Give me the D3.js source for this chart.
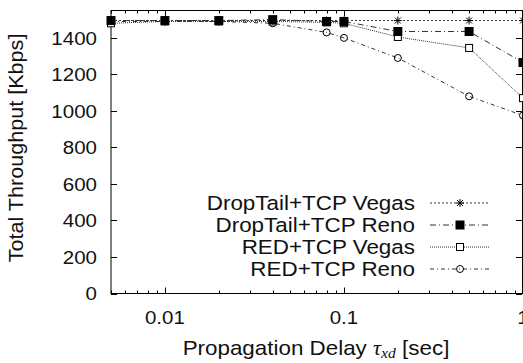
<!DOCTYPE html>
<html lang="en">

<head>
    <meta charset="UTF-8">
    <title>Total Throughput vs Propagation Delay</title>
    <script src="https://cdn.jsdelivr.net/npm/d3@7"></script>
    <style>
        body { margin: 0; background: #fff; }
        svg { display: block; font-family: "Liberation Sans", Arial, Helvetica, sans-serif; fill: #111; }
    </style>
</head>

<body>
    <main></main>

    <script>
        // propagation delay (sec)
        var delays = [0.005, 0.01, 0.02, 0.04, 0.08, 0.1, 0.2, 0.5, 1];

        var dropTailVegas = [1495, 1495, 1495, 1495, 1495, 1495, 1495, 1495, 1495];
        var dropTailReno = [1495, 1495, 1495, 1500, 1490, 1490, 1435, 1435, 1265];
        var redVegas = [1480, 1490, 1490, 1490, 1485, 1480, 1405, 1345, 1070];
        var redReno = [1490, 1490, 1490, 1480, 1430, 1400, 1290, 1080, 975];

        var seriesNames = ['DropTail+TCP Vegas', 'DropTail+TCP Reno', 'RED+TCP Vegas', 'RED+TCP Reno'];
        var yTicks = [0, 200, 400, 600, 800, 1000, 1200, 1400];
        var xTicks = [0.01, 0.1, 1];

        var series = [
            { name: seriesNames[0], values: dropTailVegas, marker: 'star', dash: '2,2' },
            { name: seriesNames[1], values: dropTailReno, marker: 'filledSquare', dash: '6,3,1,3' },
            { name: seriesNames[2], values: redVegas, marker: 'openSquare', dash: '1,1' },
            { name: seriesNames[3], values: redReno, marker: 'circle', dash: '4,3,1,3' }
        ];

        var pLeft = 111, pRight = 523, pTop = 10.5, pBottom = 293.5;
        var stretch = 1.08; // glyphs in the reference are a bit wider than tall

        var svg = d3.select('main')
            .append('svg')
            .attr('width', 523)
            .attr('height', 363);

        var x = d3.scaleLog()
            .domain([0.005, 1])
            .range([pLeft, pRight]);

        var y = d3.scaleLinear()
            .domain([0, 1550])
            .range([pBottom, pTop]);

        // minor ticks of the log axis
        var minorTicks = x.ticks().filter(d => xTicks.indexOf(d) < 0);

        var axes = svg.append('g')
            .attr('stroke', '#000')
            .attr('stroke-width', 1);

        function tickLines(values, pos, len, horizontal) {
            values.forEach(function (v) {
                var p = Math.round(pos(v)) + 0.5;
                if (horizontal) {
                    axes.append('line').attr('x1', p).attr('x2', p).attr('y1', pBottom).attr('y2', pBottom - len);
                    axes.append('line').attr('x1', p).attr('x2', p).attr('y1', pTop).attr('y2', pTop + len);
                } else {
                    axes.append('line').attr('y1', p).attr('y2', p).attr('x1', pLeft).attr('x2', pLeft + len);
                    axes.append('line').attr('y1', p).attr('y2', p).attr('x1', pRight - 1).attr('x2', pRight - 1 - len);
                }
            });
        }

        tickLines(xTicks, x, 6, true);
        tickLines(minorTicks, x, 3, true);
        tickLines(yTicks, y, 6, false);

        axes.append('rect')
            .attr('x', pLeft)
            .attr('y', pTop)
            .attr('width', pRight - pLeft - 0.5)
            .attr('height', pBottom - pTop)
            .attr('fill', 'none');

        // text placed at (tx, ty), widened a little
        function label(tx, ty, anchor, size, sx) {
            return svg.append('g')
                .attr('transform', `translate(${tx},${ty}) scale(${sx || stretch},1)`)
                .append('text')
                .attr('text-anchor', anchor)
                .style('font-size', size + 'px');
        }

        yTicks.forEach(function (d) {
            label(97, y(d), 'end', 19).attr('dy', '0.36em').text(d);
        });

        xTicks.forEach(function (d) {
            label(x(d), 324, 'middle', 19).text(d);
        });

        // axis titles
        svg.append('text')
            .attr('transform', `translate(23, 148) rotate(-90) scale(${stretch},1)`)
            .attr('text-anchor', 'middle')
            .style('font-size', '20px')
            .text('Total Throughput [Kbps]');

        var xTitle = label(316, 355, 'middle', 20, 1.12);
        xTitle.append('tspan').text('Propagation Delay ');
        xTitle.append('tspan')
            .style('font-family', '"Liberation Serif", "DejaVu Serif", serif')
            .style('font-style', 'italic')
            .text('τ');
        xTitle.append('tspan')
            .attr('dy', 3)
            .style('font-family', '"Liberation Serif", "DejaVu Serif", serif')
            .style('font-style', 'italic')
            .style('font-size', '14px')
            .text('xd');
        xTitle.append('tspan')
            .attr('dy', -3)
            .text(' [sec]');

        function drawMarker(g, type, cx, cy) {
            if (type === 'star') {
                g.append('path')
                    .attr('d', `M${cx - 4},${cy}H${cx + 4}M${cx},${cy - 4}V${cy + 4}M${cx - 3},${cy - 3}L${cx + 3},${cy + 3}M${cx - 3},${cy + 3}L${cx + 3},${cy - 3}`)
                    .attr('stroke', '#000')
                    .attr('fill', 'none');
            } else if (type === 'filledSquare') {
                g.append('rect')
                    .attr('x', cx - 4.5).attr('y', cy - 4.5)
                    .attr('width', 9).attr('height', 9)
                    .attr('fill', '#000');
            } else if (type === 'openSquare') {
                g.append('rect')
                    .attr('x', cx - 3.5).attr('y', cy - 3.5)
                    .attr('width', 7).attr('height', 7)
                    .attr('fill', '#fff')
                    .attr('stroke', '#000');
            } else {
                g.append('circle')
                    .attr('cx', cx).attr('cy', cy)
                    .attr('r', 3.5)
                    .attr('fill', 'none')
                    .attr('stroke', '#000');
            }
        }

        var line = d3.line()
            .x(d => x(d[0]))
            .y(d => y(d[1]));

        var plot = svg.append('g');

        // draw in reverse so DropTail marks sit on top
        series.slice().reverse().forEach(function (s) {
            var pts = delays.map((d, i) => [d, s.values[i]]);
            var g = plot.append('g');
            g.append('path')
                .datum(pts)
                .attr('d', line)
                .attr('fill', 'none')
                .attr('stroke', '#333')
                .attr('stroke-width', 1)
                .attr('stroke-dasharray', s.dash);
            pts.forEach(p => drawMarker(g, s.marker, x(p[0]), y(p[1])));
        });

        // legend
        var legend = svg.append('g');
        series.forEach(function (s, i) {
            var ly = 203 + i * 22;
            label(415, ly, 'end', 19.5, 1.15).attr('dy', '0.36em').text(s.name);
            legend.append('line')
                .attr('x1', 430).attr('x2', 489)
                .attr('y1', ly).attr('y2', ly)
                .attr('stroke', '#333')
                .attr('stroke-dasharray', s.dash);
            drawMarker(legend, s.marker, 460, ly);
        });
    </script>
</body>

</html>
